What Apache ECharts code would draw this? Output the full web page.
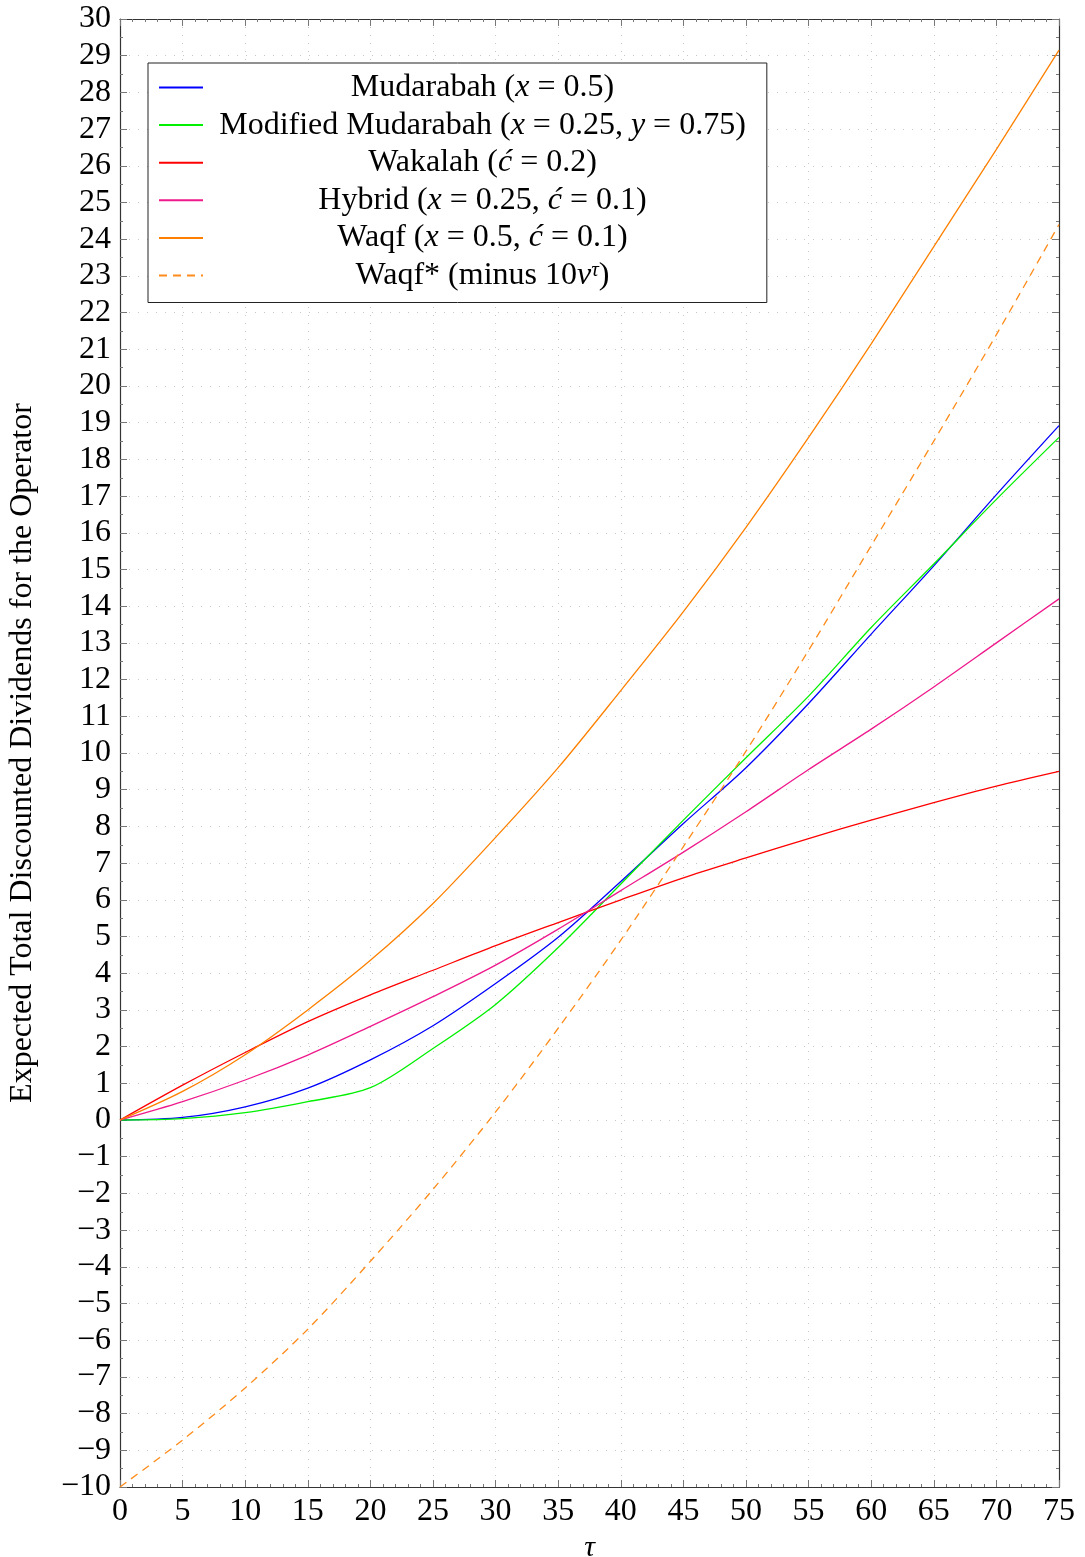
<!DOCTYPE html>
<html lang="en">
<head>
<meta charset="UTF-8">
<title>Expected Total Discounted Dividends for the Operator</title>
<script src="https://cdn.jsdelivr.net/npm/echarts@6/dist/echarts.min.js"></script>
<style>
  html, body { margin: 0; padding: 0; background: #fff; }
  #chart { width: 1085px; height: 1557px; }
</style>
</head>
<body>
<div id="chart"></div>
<script>
// tau values (x axis)
var tau = [0, 5, 10, 15, 20, 25, 30, 35, 40, 45, 50, 55, 60, 65, 70, 75];

// values
var mudarabah    = [0, 0.07, 0.36, 0.87, 1.64, 2.57, 3.72, 4.98, 6.5, 8.08, 9.6, 11.35, 13.24, 15.1, 17.04, 18.92];
var modMudarabah = [0, 0.04, 0.2, 0.5, 0.88, 1.95, 3.15, 4.7, 6.43, 8.17, 9.87, 11.55, 13.42, 15.15, 16.91, 18.6];
var wakalah      = [0, 0.95, 1.84, 2.68, 3.41, 4.08, 4.75, 5.38, 6.0, 6.6, 7.14, 7.67, 8.17, 8.65, 9.1, 9.5];
var hybrid       = [0, 0.5, 1.09, 1.77, 2.55, 3.36, 4.22, 5.2, 6.25, 7.3, 8.4, 9.55, 10.65, 11.8, 13.0, 14.2];
var waqf         = [0, 0.78, 1.78, 3.0, 4.35, 5.9, 7.7, 9.6, 11.7, 13.85, 16.15, 18.6, 21.15, 23.8, 26.45, 29.15];
var waqfStar     = [-10, -8.72, -7.3, -5.7, -3.85, -1.89, 0.22, 2.5, 4.9, 7.45, 10.05, 12.8, 15.65, 18.5, 21.4, 24.4];

var xTicks = [0, 75, 5];
var yTicks = [-10, 30, 1];

function pairs(ys) {
    var out = [];
    for (var i = 0; i < tau.length; i++) out.push([tau[i], ys[i]]);
    return out;
}

var serif = 'Liberation Serif';
var myChart = echarts.init(document.getElementById('chart'));

var tickStyle = { color: '#777', width: 1 };
function lineSeries(name, ys, color, dashed) {
    return {
        name: name,
        type: 'line',
        data: pairs(ys),
        smooth: 0.3,
        symbol: 'none',
        showSymbol: false,
        lineStyle: { color: color, width: 1.3, type: dashed ? [8, 6] : 'solid' },
        itemStyle: { color: color },
        z: 3
    };
}

// legend text: plain parts and italic math variables
var legendText = {
    'Mudarabah': '{t|Mudarabah (}{i|x}{t| = 0.5)}',
    'Modified Mudarabah': '{t|Modified Mudarabah (}{i|x}{t| = 0.25, }{i|y}{t| = 0.75)}',
    'Wakalah': '{t|Wakalah (}{i|ć}{t| = 0.2)}',
    'Hybrid': '{t|Hybrid (}{i|x}{t| = 0.25, }{i|ć}{t| = 0.1)}',
    'Waqf': '{t|Waqf (}{i|x}{t| = 0.5, }{i|ć}{t| = 0.1)}',
    'Waqf*': '{t|Waqf* (minus 10}{i|ν}{s|τ}{t|)}'
};

var option = {
    backgroundColor: '#fff',
    animation: false,
    grid: { left: 120, right: 26, top: 19, bottom: 70, outerBoundsMode: 'none' },
    legend: {
        orient: 'vertical',
        left: 148,
        top: 63,
        padding: [8.5, 21, 8, 10],
        borderColor: '#222',
        borderWidth: 1,
        backgroundColor: '#fff',
        itemWidth: 44,
        itemHeight: 14,
        itemGap: 5.6,
        itemStyle: { opacity: 0 },
        data: ['Mudarabah', 'Modified Mudarabah', 'Wakalah', 'Hybrid', 'Waqf', 'Waqf*'],
        formatter: function (name) { return legendText[name]; },
        textStyle: {
            width: 549,
            color: '#000',
            rich: {
                t: { fontFamily: serif, fontSize: 32, lineHeight: 32, color: '#000', align: 'center' },
                i: { fontFamily: serif, fontSize: 32, lineHeight: 32, fontStyle: 'italic', color: '#000', align: 'center' },
                s: { fontFamily: serif, fontSize: 21, lineHeight: 32, fontStyle: 'italic', color: '#000', align: 'center', verticalAlign: 'top', padding: [0, 0, 14, 0] }
            }
        },
        z: 10
    },
    xAxis: [{
        type: 'value',
        position: 'bottom',
        min: xTicks[0], max: xTicks[1], interval: xTicks[2],
        name: 'τ',
        nameLocation: 'middle',
        nameGap: 43,
        nameTextStyle: { fontFamily: serif, fontSize: 30, fontStyle: 'italic', color: '#000' },
        axisLine: { onZero: false, lineStyle: { color: '#333', width: 1.2 } },
        axisTick: { inside: true, length: 7, lineStyle: tickStyle },
        minorTick: { show: true, splitNumber: 5, length: 3, lineStyle: tickStyle },
        axisLabel: { fontFamily: serif, fontSize: 32, color: '#000', margin: 9 },
        splitLine: { show: true, lineStyle: { color: '#c8c8c8', type: [1, 7], width: 1 } }
    }, {
        type: 'value',
        position: 'top',
        min: xTicks[0], max: xTicks[1], interval: xTicks[2],
        axisLine: { onZero: false, lineStyle: { color: '#333', width: 1.2 } },
        axisTick: { inside: true, length: 7, lineStyle: tickStyle },
        minorTick: { show: true, splitNumber: 5, length: 3, lineStyle: tickStyle },
        axisLabel: { show: false },
        splitLine: { show: false }
    }],
    yAxis: [{
        type: 'value',
        position: 'left',
        min: yTicks[0], max: yTicks[1], interval: yTicks[2],
        name: 'Expected Total Discounted Dividends for the Operator',
        nameLocation: 'middle',
        nameGap: 81,
        nameTextStyle: { fontFamily: serif, fontSize: 32, color: '#000' },
        axisLine: { onZero: false, lineStyle: { color: '#333', width: 1.2 } },
        axisTick: { inside: true, length: 7, lineStyle: tickStyle },
        minorTick: { show: true, splitNumber: 2, length: 3, lineStyle: tickStyle },
        axisLabel: {
            fontFamily: serif, fontSize: 32, color: '#000', margin: 9,
            formatter: function (v) { return v < 0 ? '\u2212' + (-v) : String(v); }
        },
        splitLine: { show: true, lineStyle: { color: '#c8c8c8', type: [1, 8], width: 1 } }
    }, {
        type: 'value',
        position: 'right',
        min: yTicks[0], max: yTicks[1], interval: yTicks[2],
        axisLine: { onZero: false, lineStyle: { color: '#333', width: 1.2 } },
        axisTick: { inside: true, length: 7, lineStyle: tickStyle },
        minorTick: { show: true, splitNumber: 2, length: 3, lineStyle: tickStyle },
        axisLabel: { show: false },
        splitLine: { show: false }
    }],
    series: [
        lineSeries('Mudarabah', mudarabah, '#0000ff'),
        lineSeries('Modified Mudarabah', modMudarabah, '#00f000'),
        lineSeries('Wakalah', wakalah, '#ff0000'),
        lineSeries('Hybrid', hybrid, '#ee1a8c'),
        lineSeries('Waqf', waqf, '#ff8000'),
        lineSeries('Waqf*', waqfStar, '#ff8c1a', true)
    ]
};

myChart.setOption(option);
</script>
</body>
</html>
